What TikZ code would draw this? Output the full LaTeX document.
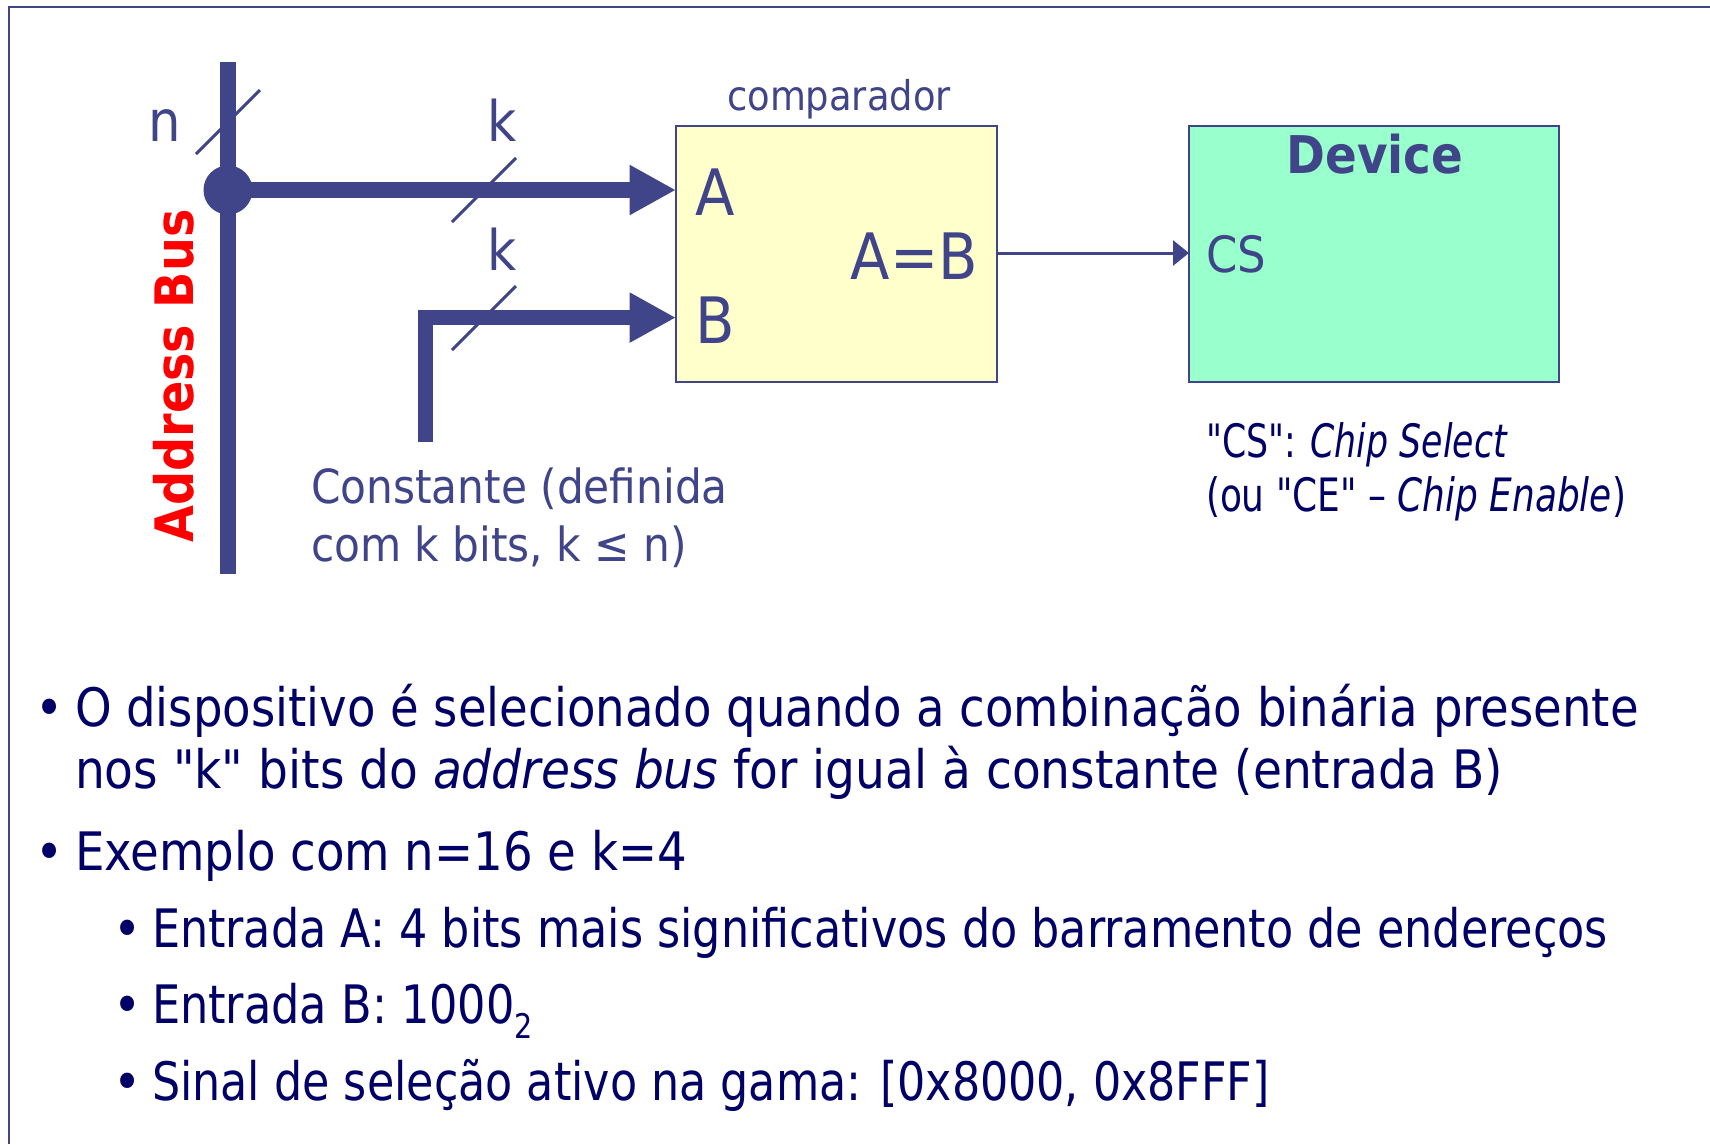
\documentclass[tikz,border=0pt]{standalone}
\usepackage{fontspec}
\setmainfont{DejaVu Sans Condensed}[Ligatures=TeXOff]
\usetikzlibrary{arrows.meta}
\definecolor{dblue}{RGB}{64,68,136}
\definecolor{navy}{RGB}{0,0,102}
\definecolor{cmpfill}{RGB}{255,255,204}
\definecolor{devfill}{RGB}{153,255,204}
\definecolor{busred}{RGB}{255,0,0}
\newcommand\setfs[1]{\fontsize{#1}{#1}\selectfont}
\newcommand\fitw[2]{\resizebox{#1}{\height}{#2}}
\begin{document}
\begin{tikzpicture}[x=1pt,y=-1pt,
  every node/.style={inner sep=0pt, outer sep=0pt},
  lbl/.style={text=dblue, anchor=base west},
  txt/.style={text=navy, anchor=base west, font=\setfs{53}},
  subtxt/.style={text=navy, anchor=base west, font=\setfs{53}},
  blt/.style={text=navy, anchor=base west, font=\setfs{53}},
  boxstyle/.style={draw=dblue, line width=2pt, minimum width=#1, minimum height=256pt},
  busline/.style={draw=dblue, line width=16pt},
  busarrow/.style={draw=dblue, line width=15.3pt, line join=miter, -{Triangle[length=46.5pt, width=47pt]}},
  sigarrow/.style={draw=dblue, line width=3pt, -{Triangle[length=16pt, width=25pt]}},
  slash/.style={draw=dblue, line width=3pt}
]
\useasboundingbox (0,0) rectangle (1710,1144);
% frame
\coordinate (fTL) at (9,7);
\coordinate (fTR) at (1710,7);
\coordinate (fBL) at (9,1144);
\draw[dblue, line width=2pt] (fTR) -- (fTL) -- (fBL);

% boxes
\node[boxstyle=321pt, fill=cmpfill] (cmp) at (836.5,254) {};
\node[boxstyle=370pt, fill=devfill] (dev) at (1374,254) {};

% address bus
\coordinate (bustop) at (228,62);
\coordinate (busbot) at (228,574);
\draw[busline] (bustop) -- (busbot);
\node[circle, fill=dblue, minimum size=49pt] (dot) at (228,190) {};
\node[text=busred, rotate=90, anchor=base, font=\bfseries\setfs{53}] (abus) at (193,376) {Address Bus};

% slashes
\draw[slash] (196,154) -- (260,90);
\draw[slash] (452,222) -- (516,158);
\draw[slash] (452,350) -- (516,286);
\node[lbl, anchor=base, font=\setfs{57}] (nlab) at (165,141) {n};
\node[lbl, anchor=base, font=\setfs{56}] (k1) at (502,141) {k};
\node[lbl, anchor=base, font=\setfs{56}] (k2) at (502,270) {k};

% bus arrows
\draw[busarrow] (dot.center) -- (cmp.west |- dot.center);
\coordinate (cst) at (425.5,442);
\coordinate (bin) at (676,317.6);
\draw[busarrow] (cst) |- (bin);

% comparator labels
\node[lbl, anchor=base, font=\setfs{41}] (cmplab) at (839,110) {comparador};
\node[lbl, font=\setfs{64}] (la) at (695,215) {A};
\node[lbl, font=\setfs{64}] (lb) at (695,343) {B};
\node[lbl, anchor=base east, font=\setfs{64}] (lab) at (978,279) {A=B};

% signal arrow
\draw[sigarrow] (cmp.east |- 0,253) -- (dev.west |- 0,253);

% device labels
\node[lbl, anchor=base, font=\bfseries\setfs{52}] (devlab) at (1375,173) {Device};
\node[lbl, font=\setfs{50}] (cs) at (1206,272) {CS};

% captions
\node[lbl, font=\setfs{47}] (c1) at (311,503) {Constante (definida};
\node[lbl, font=\setfs{47}] (c2) at (311,561) {com k bits, k ≤ n)};
\node[text=navy, anchor=base west, font=\setfs{46}] (cs1) at (1206,457) {\fitw{302pt}{"CS": \textit{Chip Select}}};
\node[text=navy, anchor=base west, font=\setfs{46}] (cs2) at (1206,511) {\fitw{420pt}{(ou "CE" – \textit{Chip Enable})}};

% bullets
\node[blt] (b1) at (35,726) {•};
\node[txt] (l1) at (75,726) {\fitw{1564pt}{O dispositivo é selecionado quando a combinação binária presente}};
\node[txt] (l2) at (75,788) {\fitw{1428pt}{nos "k" bits do \textit{address bus} for igual à constante (entrada B)}};
\node[blt] (b2) at (35,870) {•};
\node[txt] (l3) at (75,870) {\fitw{612pt}{Exemplo com n=16 e k=4}};
\node[blt] (b3) at (113,947) {•};
\node[subtxt] (l4) at (152,947) {\fitw{1456pt}{Entrada A: 4 bits mais significativos do barramento de endereços}};
\node[blt] (b4) at (113,1023) {•};
\node[subtxt] (l5) at (152,1023) {\fitw{381pt}{Entrada B: 1000\raisebox{-0.3em}{\setfs{34}2}}};
\node[blt] (b5) at (113,1100) {•};
\node[subtxt] (l6) at (152,1100) {\fitw{1118pt}{Sinal de seleção ativo na gama: [0x8000, 0x8FFF]}};
\end{tikzpicture}
\end{document}
